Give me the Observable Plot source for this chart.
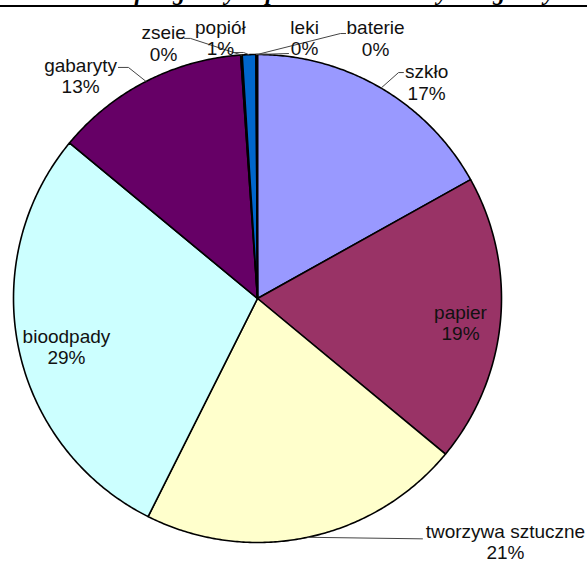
<!DOCTYPE html>
<html><head><meta charset="utf-8">
<script src="https://cdn.jsdelivr.net/npm/d3@7"></script>
<script src="https://cdn.jsdelivr.net/npm/@observablehq/plot@0.6"></script>
<style>
body{margin:0;background:#fff;}
#title{height:5px;overflow:hidden;border-bottom:2px solid #000;width:587px;text-align:center;font:bold italic 24px "Liberation Serif","Times New Roman",serif;line-height:24px;}
#title span{display:block;margin-top:-20px;white-space:nowrap;}
</style></head><body>
<div id="title"><span>Skład morfologiczny odpadów komunalnych z gminy</span></div>
<div id="chart"></div>
<script>
// data
const categories = ["szkło","papier","tworzywa sztuczne","bioodpady","gabaryty","zseie","popiół","leki","baterie"];
const shares = [16.9,19.1,21.4,28.6,12.9,0.1,0.9,0.05,0.05];
const colors = ["#9999FF","#993366","#FFFFCC","#CCFFFF","#660066","#FF8080","#0066CC","#CCCCFF","#000080"];

// label layout (in pie-radius units, relative to centre)
const labelX = [0.693,0.832,1.016,-0.783,-0.725,-0.385,-0.152,0.193,0.484];
const labelY = [0.887,-0.100,-0.996,-0.197,0.914,1.047,1.070,1.070,1.068];
// leader elbows (pie-radius units); null = no leader
const leaderElbows = [
  [[0.578,0.926],[0.598,0.926]],
  null,
  [[0.676,-0.985]],
  null,
  [[-0.529,0.947],[-0.570,0.947]],
  [[-0.275,1.066],[-0.299,1.066]],
  [[-0.057,1.008],[-0.098,1.008]],
  [[0.127,1.004]],
  [[0.340,1.086],[0.361,1.086]]
];

const arcs = d3.pie().sort(null).value(d => d.v)(categories.map((n,i)=>({name:n, v:shares[i]})));

const slicePts = [];
arcs.forEach(a => {
  const name = a.data.name;
  slicePts.push({name, x:0, y:0});
  const steps = Math.max(2, Math.ceil((a.endAngle - a.startAngle) / (Math.PI/360)));
  for (let k = 0; k <= steps; k++) {
    const t = a.startAngle + (a.endAngle - a.startAngle) * k / steps;
    slicePts.push({name, x: Math.sin(t), y: Math.cos(t)});
  }
});

const leaderPts = [];
arcs.forEach((a,i) => {
  if (!leaderElbows[i]) return;
  const m = (a.startAngle + a.endAngle) / 2;
  const name = a.data.name;
  leaderPts.push({name, x: Math.sin(m), y: Math.cos(m)});
  leaderElbows[i].forEach(p => leaderPts.push({name, x:p[0], y:p[1]}));
});

const labels = categories.map((n,i) => ({name:n, x:labelX[i], y:labelY[i], text: n + "\n" + Math.round(shares[i]) + "%"}));

const R = 244;
const chart = Plot.plot({
  width: 587,
  height: 556,
  margin: 0,
  x: {domain: [-257/R, 330/R], axis: null},
  y: {domain: [-265/R, 291/R], axis: null},
  color: {domain: categories, range: colors},
  style: {background: "#fff", fontFamily: "'Liberation Sans', Arial, sans-serif"},
  marks: [
    Plot.line(slicePts, {x:"x", y:"y", z:"name", fill:"name", stroke:"#000", strokeWidth:1.6, curve:"linear-closed", strokeLinejoin:"round"}),
    Plot.line(leaderPts, {x:"x", y:"y", z:"name", stroke:"#444", strokeWidth:1}),
    Plot.text(labels, {x:"x", y:"y", text:"text", fontSize:19, lineHeight:1.13, fill:"#111", fontFamily:"'Liberation Sans', Arial, sans-serif"})
  ]
});
document.getElementById("chart").appendChild(chart);
</script>
</body></html>
